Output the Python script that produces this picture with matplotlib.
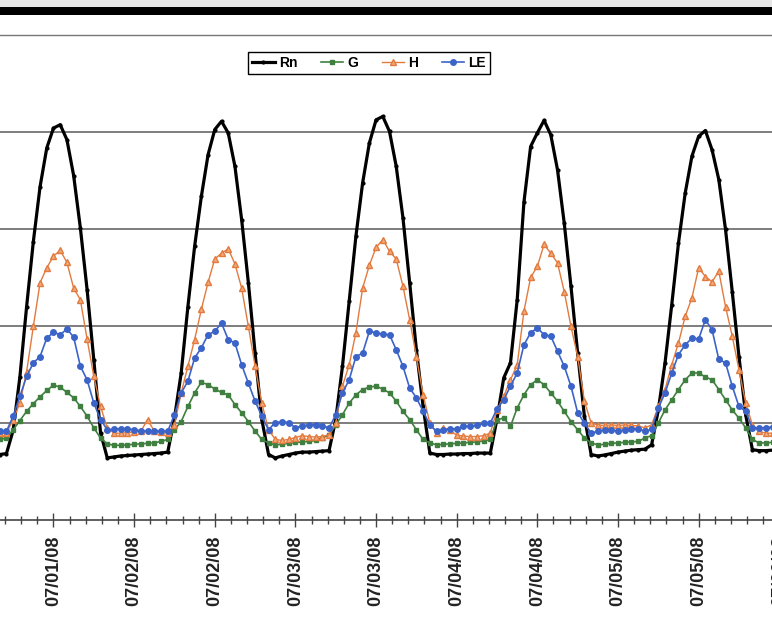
"""Hourly energy balance components, 1-5 July 2008."""

import matplotlib

matplotlib.use('Agg')
import matplotlib.dates as mdates  # noqa: E402
import pandas as pd  # noqa: E402
from matplotlib import pyplot as plt  # noqa: E402
from matplotlib.patches import Rectangle  # noqa: E402
from matplotlib.ticker import MultipleLocator  # noqa: E402

# hourly values (W/m2) from 07/01/08 03:00
START = '2008-07-01 03:00'
rn = [-65, -65, -63, -15, 95, 240, 374, 487, 567, 608, 615, 584, 510, 402, 275, 130, -20,
      -72, -70, -68, -67, -66, -65, -64, -63, -62, -60,
      10, 103, 240, 364, 467, 553, 605, 622, 598, 529, 419, 289, 144, 7,
      -65, -72, -68, -65, -62, -60, -60, -59, -58, -57,
      7, 117, 251, 385, 495, 577, 625, 632, 601, 529, 423, 289, 151, 34,
      -62, -65, -65, -64, -64, -63, -63, -62, -62, -62,
      9, 93, 124, 254, 455, 570, 598, 624, 594, 522, 412, 282, 144, 14,
      -65, -68, -66, -63, -60, -58, -56, -55, -54, -45,
      27, 124, 244, 371, 474, 550, 591, 603, 563, 502, 399, 271, 137, 17,
      -55, -57, -57, -56]
g = [-34, -34, -31, -14, 5, 24, 40, 54, 67, 78, 74, 63, 52, 34, 14, -10, -31,
     -43, -46, -46, -45, -44, -43, -42, -41, -38, -34,
     -14, 3, 34, 62, 84, 79, 70, 63, 58, 38, 21, 3, -17, -34,
     -41, -45, -44, -42, -40, -39, -38, -36, -30, -25,
     -4, 17, 41, 58, 69, 74, 76, 70, 62, 45, 24, 7, -14, -34,
     -41, -45, -44, -43, -42, -41, -40, -39, -37, -34,
     7, 10, -7, 31, 58, 79, 89, 79, 62, 45, 24, 3, -14, -31,
     -41, -45, -44, -42, -41, -40, -39, -38, -31, -26,
     0, 27, 48, 69, 89, 103, 103, 95, 89, 69, 48, 27, 10, -10,
     -34, -41, -41, -40]
h = [-21, -21, -21, 7, 41, 106, 199, 289, 320, 344, 356, 331, 278, 254, 173, 96, 34,
     -10, -21, -21, -20, -19, -17, 7, -17, -19, -21,
     -4, 62, 117, 172, 234, 290, 338, 350, 359, 328, 278, 199, 117, 41,
     -14, -34, -36, -34, -30, -26, -28, -29, -28, -24,
     0, 76, 120, 186, 278, 325, 362, 378, 354, 338, 282, 213, 137, 58,
     0, -21, -10, -15, -25, -27, -28, -28, -26, -21,
     27, 55, 89, 120, 230, 300, 323, 368, 350, 330, 271, 199, 137, 45,
     0, -4, -5, -4, -5, -4, -5, -6, -10, -4,
     34, 69, 120, 165, 220, 258, 320, 302, 291, 313, 240, 179, 110, 41,
     -4, -17, -21, -21]
le = [-17, -17, -17, 14, 55, 96, 124, 137, 175, 187, 182, 194, 177, 117, 89, 41, 7,
      -14, -13, -12, -12, -14, -16, -17, -16, -17, -17,
      17, 62, 86, 134, 155, 182, 189, 206, 172, 165, 120, 82, 45, 14,
      -14, 1, 2, 1, -10, -6, -4, -4, -6, -10,
      17, 62, 89, 137, 144, 189, 186, 183, 182, 151, 117, 72, 52, 24,
      -4, -17, -14, -12, -12, -7, -6, -5, -1, 0,
      29, 48, 76, 103, 161, 186, 196, 182, 179, 148, 117, 76, 21, 0,
      -21, -17, -14, -14, -17, -14, -12, -12, -17, -13,
      31, 62, 103, 141, 161, 175, 173, 213, 192, 131, 124, 76, 34, 24,
      -10, -10, -10, -8]

times = pd.date_range(START, periods=len(rn), freq='h')

plt.rcParams['font.family'] = ['Liberation Sans', 'DejaVu Sans']

fig = plt.figure(figsize=(7.72, 6.2), dpi=100)
# plot area runs past the right edge of the (cropped) picture
ax = fig.add_axes([0.0, 0.1613, 1.05, 0.7823])

ax.plot(times, rn, color='black', lw=2.3, marker='o', ms=2, label='Rn')
ax.plot(times, g, color='#3f8040', lw=1.2, marker='s', ms=3.2, label='G')
ax.plot(times, h, color='#e27a3e', lw=1.0, marker='^', ms=4.2,
        mfc='#f2a878', mec='#e27a3e', label='H')
ax.plot(times, le, color='#3c64c8', lw=1.2, marker='o', ms=4, label='LE')

base = pd.Timestamp('2008-07-01 00:00')
ax.set_xlim(mdates.date2num(base + pd.Timedelta(hours=4.04)),
            mdates.date2num(base + pd.Timedelta(hours=124.66)))
ax.set_ylim(-200, 800)
ax.set_yticks([0, 200, 400, 600])
ax.tick_params(axis='y', length=0, labelleft=False)
ax.grid(True, axis='y', color='#5a5a5a', lw=1.1)

ax.xaxis.set_major_locator(MultipleLocator(0.5))
ax.xaxis.set_minor_locator(MultipleLocator(0.1))
ax.xaxis.set_major_formatter(mdates.DateFormatter('%m/%d/%y'))
ax.tick_params(axis='x', which='major', direction='inout', length=10, width=1,
               color='#444444', pad=6, labelsize=13, labelcolor='#222222',
               labelrotation=90)
ax.tick_params(axis='x', which='minor', direction='inout', length=6, width=1,
               color='#444444')
for lbl in ax.get_xticklabels():
    lbl.set_fontweight('bold')

for side in ('left', 'right'):
    ax.spines[side].set_visible(False)
ax.spines['bottom'].set_color('#444444')
ax.spines['bottom'].set_linewidth(1.2)
ax.spines['top'].set_color('#777777')
ax.spines['top'].set_linewidth(1.0)

ax.legend(loc='center', bbox_to_anchor=(369 / 810.6, 0.942), ncol=4, fancybox=False,
          edgecolor='black', framealpha=1, handlelength=1.6, handletextpad=0.3,
          columnspacing=1.7, borderpad=0.3, prop={'weight': 'bold', 'size': 10})

# dark edge along the top of the scanned page
fig.add_artist(Rectangle((0, 1 - 7 / 620), 1, 7 / 620, transform=fig.transFigure,
                         color='#e6e6e6', lw=0))
fig.add_artist(Rectangle((0, 1 - 15 / 620), 1, 8 / 620, transform=fig.transFigure,
                         color='black', lw=0))

fig.savefig('out.png', dpi=100)
plt.close(fig)
